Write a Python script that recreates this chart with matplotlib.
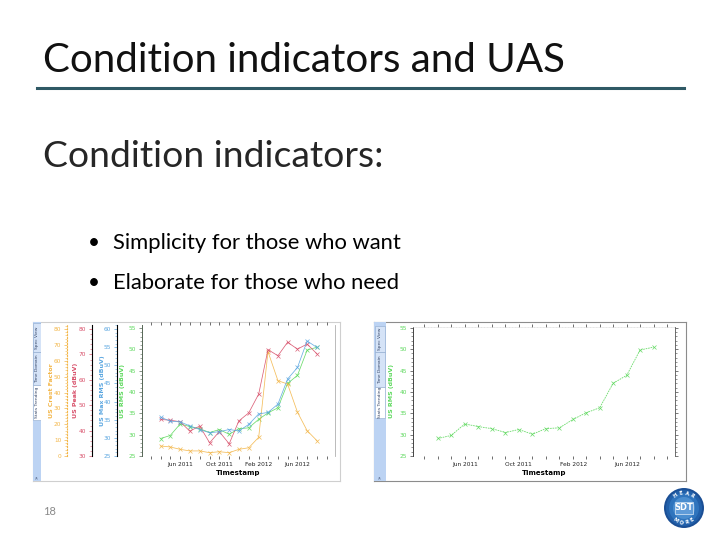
import numpy as np
import matplotlib
matplotlib.use('Agg')
import matplotlib.pyplot as plt
from matplotlib.patches import Rectangle, Circle
from matplotlib.ticker import MultipleLocator

# monthly trend data (US sensor)
months = np.array(['2011-04-01', '2011-05-01', '2011-06-01', '2011-07-01', '2011-08-01',
                   '2011-09-01', '2011-10-01', '2011-11-01', '2011-12-01', '2012-01-01',
                   '2012-02-01', '2012-03-01', '2012-04-01', '2012-05-01', '2012-06-01',
                   '2012-07-01', '2012-08-01'], dtype='datetime64[D]')
crest = [6.3, 5.7, 4.2, 3.2, 3.2, 2.1, 2.7, 2.1, 4.2, 5.2, 11.8, 65.8, 47.5, 45.4, 27.6, 16.0, 9.6]
peak = [44.4, 44.1, 43.5, 39.8, 41.8, 35.2, 39.6, 34.8, 43.8, 47.0, 54.4, 71.9, 69.5, 74.8, 72.1, 74.1, 70.2]
max_rms = [35.7, 34.6, 34.4, 33.3, 32.3, 31.4, 31.7, 32.3, 31.9, 33.7, 36.6, 37.0, 39.3, 46.2, 49.4, 56.7, 54.9]
rms = [29.1, 29.8, 32.5, 31.9, 31.4, 30.5, 31.2, 30.1, 31.4, 31.6, 33.6, 35.1, 36.3, 42.0, 43.9, 49.8, 50.5]

tick_months = np.array(['2011-03-01', '2011-04-01', '2011-05-01', '2011-06-01', '2011-07-01',
                        '2011-08-01', '2011-09-01', '2011-10-01', '2011-11-01', '2011-12-01',
                        '2012-01-01', '2012-02-01', '2012-03-01', '2012-04-01', '2012-05-01',
                        '2012-06-01', '2012-07-01', '2012-08-01', '2012-09-01'], dtype='datetime64[D]')
tick_text = ['', '', '', 'Jun 2011', '', '', '', 'Oct 2011', '', '', '', 'Feb 2012', '', '', '',
             'Jun 2012', '', '', '']

ORANGE = '#f3b648'
RED = '#d8506a'
BLUE = '#5aa6e0'
GREEN = '#5cd85c'

W, H = 720, 540
fig = plt.figure(figsize=(7.2, 5.4), dpi=100)
fig.patch.set_facecolor('white')


def rect(x0, y0, x1, y1):
    return [x0 / W, 1 - y1 / H, (x1 - x0) / W, (y1 - y0) / H]


def ftext(x, y, s, **kw):
    fig.text(x / W, 1 - y / H, s, **kw)


# ---- slide text ----
slide_font = ['Lato', 'DejaVu Sans']
ftext(43, 72, 'Condition indicators and UAS', fontsize=29, family=slide_font,
      va='baseline', color='#111111')
fig.add_artist(plt.Line2D([37 / W, 684 / W], [1 - 88 / H, 1 - 88 / H], color='#2f5965', lw=2.2))
ftext(43, 167, 'Condition indicators:', fontsize=26.8, family=slide_font,
      va='baseline', color='#262626')
ftext(88, 249, '\u2022', fontsize=15, family=slide_font, va='baseline')
ftext(113, 249, 'Simplicity for those who want', fontsize=15.8, family=slide_font, va='baseline')
ftext(88, 289, '\u2022', fontsize=15, family=slide_font, va='baseline')
ftext(113, 289, 'Elaborate for those who need', fontsize=15.8, family=slide_font, va='baseline')
ftext(43, 515, '18', fontsize=8, family=slide_font, va='baseline', color='#8a8a8a')


def frame(x0, y0, x1, y1, edge):
    a = fig.add_axes(rect(x0, y0, x1, y1), zorder=0)
    a.set_xticks([])
    a.set_yticks([])
    for s in a.spines.values():
        s.set_color(edge)
        s.set_linewidth(0.8)
    return a


def sidebar(x0, y0, x1, y1, tabs):
    a = fig.add_axes(rect(x0, y0, x1, y1), zorder=1)
    a.set_xlim(0, 1)
    a.set_ylim(y1, y0)
    a.set_facecolor('#bcd3f3')
    a.set_xticks([])
    a.set_yticks([])
    for s in a.spines.values():
        s.set_visible(False)
    for (t0, t1, label, active) in tabs:
        a.add_patch(Rectangle((0.05, t0), 0.9, t1 - t0, facecolor='white' if active else '#d5e3f7',
                              edgecolor='#8fa9cc', lw=0.4))
        a.text(0.5, (t0 + t1) / 2, label, rotation=90, ha='center', va='center',
               fontsize=3.2, color='#334466', family='DejaVu Sans')
    a.text(0.5, y1 - 4, '\u00bb', rotation=90, ha='center', va='center', fontsize=4, color='#334466')


def style_x(ax, xmin, xmax):
    ax.set_xlim(np.datetime64(xmin), np.datetime64(xmax))
    ax.set_xticks(tick_months)
    ax.set_xticklabels(tick_text, fontsize=4.2, family='DejaVu Sans', color='#222222')
    ax.tick_params(axis='x', length=2.5, width=0.5, color='#333333', pad=2, top=True)
    ax.set_xlabel('Timestamp', fontsize=5, fontweight='bold', family='DejaVu Sans', labelpad=2)


def side_axis(ax, color, lo, hi, major, minor, xpos, label, labx):
    ax.set_ylim(lo, hi)
    ax.yaxis.set_major_locator(MultipleLocator(major))
    ax.yaxis.set_minor_locator(MultipleLocator(minor))
    ax.yaxis.tick_left()
    ax.spines['left'].set_position(('axes', xpos))
    for s in ['right', 'top', 'bottom']:
        ax.spines[s].set_visible(False)
    ax.tick_params(axis='y', which='major', labelsize=4.2, labelcolor=color, length=2.5,
                   width=0.5, color=color, pad=1.5)
    ax.tick_params(axis='y', which='minor', length=1.3, width=0.4, color=color)
    for t in ax.get_yticklabels():
        t.set_family('DejaVu Sans')
    ax.set_ylabel(label, fontsize=4.5, color=color, fontweight='bold', family='DejaVu Sans')
    ax.yaxis.set_label_coords(labx, 0.5)


# ---- left chart ----
frame(33, 322, 340, 481, '#cfcfcf')
sidebar(33, 322, 41, 481, [(323, 352, 'Spec View', False), (352, 385, 'Time Domain', False),
                           (385, 420, 'Stats Trending', True)])

L0, L1 = 142, 335
host = fig.add_axes(rect(L0, 325, L1, 456), zorder=3)
host.patch.set_alpha(0)
style_x(host, '2011-02-02', '2012-09-26')
host.spines['bottom'].set_visible(False)
host.spines['top'].set_visible(False)
host.spines['right'].set_color('#b0b0b0')
host.spines['right'].set_linewidth(0.6)
host.spines['left'].set_color('#556655')
host.spines['left'].set_linewidth(0.7)
host.set_ylim(25, 55.7)
host.yaxis.set_major_locator(MultipleLocator(5))
host.yaxis.set_minor_locator(MultipleLocator(1))
host.tick_params(axis='y', which='major', labelsize=4.2, labelcolor=GREEN, length=2.5, width=0.5,
                 color='#556655', pad=1.5)
host.tick_params(axis='y', which='minor', length=1.3, width=0.4, color='#556655')
host.set_ylabel('US RMS (dBuV)', fontsize=4.5, color=GREEN, fontweight='bold')
host.yaxis.set_label_coords((125 - L0) / (L1 - L0), 0.5)

ax_o = host.twinx()
side_axis(ax_o, ORANGE, 0, 82.6, 10, 2, (67 - L0) / (L1 - L0), 'US Crest Factor', (49 - L0) / (L1 - L0))
ax_o.spines['left'].set_linestyle(':')
ax_o.spines['left'].set_color(ORANGE)
ax_r = host.twinx()
side_axis(ax_r, RED, 30, 81.6, 10, 2, (92 - L0) / (L1 - L0), 'US Peak (dBuV)', (73 - L0) / (L1 - L0))
ax_b = host.twinx()
side_axis(ax_b, BLUE, 25, 61.1, 5, 1, (117 - L0) / (L1 - L0), 'US Max RMS (dBuV)', (100 - L0) / (L1 - L0))

line_kw = dict(lw=0.55, marker='x', ms=2.6, mew=0.5, alpha=0.9)
ax_o.plot(months, crest, color=ORANGE, **line_kw)
ax_r.plot(months, peak, color=RED, **line_kw)
ax_b.plot(months, max_rms, color=BLUE, **line_kw)
host.plot(months, rms, color=GREEN, **line_kw)
host.set_zorder(3)

# ---- right chart ----
frame(374, 322, 686, 481, '#8c8c8c')
sidebar(374, 322, 386, 481, [(326, 352, 'Spec View', False), (352, 387, 'Time Domain', False),
                             (387, 418, 'Stats Trending', True)])
R0, R1 = 413, 675
axr = fig.add_axes(rect(R0, 327, R1, 456), zorder=3)
axr.patch.set_alpha(0)
style_x(axr, '2011-02-04', '2012-09-18')
axr.spines['bottom'].set_visible(False)
axr.spines['top'].set_color('#d0d0d0')
axr.spines['top'].set_linewidth(0.4)
axr.spines['top'].set_linestyle(':')
axr.spines['right'].set_color('#555555')
axr.spines['right'].set_linewidth(0.6)
axr.spines['left'].set_color('#444444')
axr.spines['left'].set_linewidth(0.7)
axr.set_ylim(25, 55.2)
axr.yaxis.set_major_locator(MultipleLocator(5))
axr.yaxis.set_minor_locator(MultipleLocator(1))
axr.tick_params(axis='y', which='both', right=True)
axr.tick_params(axis='y', which='major', labelsize=4.2, labelcolor=GREEN, length=2.5, width=0.5,
                color='#444444', pad=1.5)
axr.tick_params(axis='y', which='minor', length=1.3, width=0.4, color='#444444')
axr.set_ylabel('US RMS (dBuV)', fontsize=4.5, color=GREEN, fontweight='bold')
axr.yaxis.set_label_coords((394 - R0) / (R1 - R0), 0.5)
axr.plot(months, rms, color=GREEN, lw=0.6, ls=(0, (2, 1)), marker='x', ms=2.6, mew=0.5, alpha=0.9)

# ---- logo ----
lg = fig.add_axes(rect(660, 484, 708, 532), zorder=4)
lg.set_xlim(-1.2, 1.2)
lg.set_ylim(-1.2, 1.2)
lg.set_aspect('equal')
lg.axis('off')
for r, c in [(1.0, '#1b4f95'), (0.9, '#2260aa'), (0.75, '#2f74bd'), (0.55, '#4a8dcf')]:
    lg.add_patch(Circle((0, 0), r, color=c, lw=0))
for i, ch in enumerate('HEAR'):
    ang = np.deg2rad(125 - i * 23)
    lg.text(0.74 * np.cos(ang), 0.74 * np.sin(ang), ch, rotation=np.rad2deg(ang) - 90,
            ha='center', va='center', fontsize=3.6, color='white', fontweight='bold')
for i, ch in enumerate('MORE'):
    ang = np.deg2rad(235 + i * 23)
    lg.text(0.74 * np.cos(ang), 0.74 * np.sin(ang), ch, rotation=np.rad2deg(ang) + 90,
            ha='center', va='center', fontsize=3.6, color='white', fontweight='bold')
lg.add_patch(Rectangle((-0.45, -0.28), 0.9, 0.56, facecolor='#5f9bd8', edgecolor='white', lw=0.4))
lg.text(0, 0, 'SDT', ha='center', va='center', fontsize=6, color='white', fontweight='bold')

fig.savefig('out.png', dpi=100, facecolor='white')
